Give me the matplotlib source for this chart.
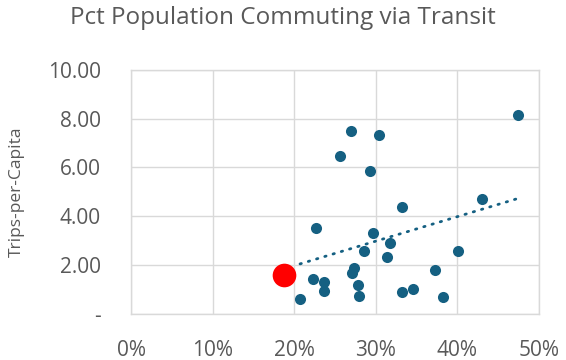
"""Scatter of transit trips per capita against share of population commuting by transit."""

import numpy as np
import matplotlib

matplotlib.use("Agg")

import matplotlib.pyplot as plt
from matplotlib.ticker import FuncFormatter

# Peer systems: share commuting via transit (%) and trips per capita
PCT_TRANSIT = [
    20.7, 22.3, 22.6, 23.7, 23.7, 25.6, 26.9, 27.1, 27.3, 27.8,
    27.95, 28.6, 29.3, 29.6, 30.4, 31.4, 31.8, 33.2, 33.2, 34.5,
    37.2, 38.3, 40.1, 43.0, 47.5,
]
TRIPS_PER_CAPITA = [
    0.63, 1.43, 3.54, 1.32, 0.95, 6.49, 7.50, 1.69, 1.87, 1.19,
    0.75, 2.58, 5.87, 3.32, 7.31, 2.32, 2.92, 4.40, 0.89, 1.02,
    1.78, 0.71, 2.58, 4.69, 8.17,
]

# Highlighted system
HIGHLIGHT_PCT = [18.7]
HIGHLIGHT_TRIPS = [1.60]

X_TICKS = [0, 10, 20, 30, 40, 50]
Y_TICKS = [0, 2, 4, 6, 8, 10]

BLUE = "#156082"
GREY_TEXT = "#595959"
GRID = "#D9D9D9"

plt.rcParams["font.family"] = ["Open Sans", "DejaVu Sans"]

fig = plt.figure(figsize=(5.66, 3.60), dpi=100)
ax = fig.add_axes([0.232, 0.128, 0.720, 0.678])

x = np.array(PCT_TRANSIT)
y = np.array(TRIPS_PER_CAPITA)
ax.scatter(x, y, s=64, color=BLUE, linewidths=0, zorder=3)
ax.scatter(HIGHLIGHT_PCT, HIGHLIGHT_TRIPS, s=290, color="#FF0000", linewidths=0, zorder=4)

# Linear trendline over the peer systems
slope, intercept = np.polyfit(x, y, 1)
xs = np.array([x.min(), x.max()])
ax.plot(xs, slope * xs + intercept, color=BLUE, linewidth=2.0,
        linestyle=(0, (0.5, 2.6)), dash_capstyle="round", zorder=2)

ax.set_xlim(0, 50)
ax.set_ylim(0, 10)
ax.set_xticks(X_TICKS)
ax.set_yticks(Y_TICKS)
ax.xaxis.set_major_formatter(FuncFormatter(lambda v, _: f"{v:.0f}%"))
ax.yaxis.set_major_formatter(FuncFormatter(lambda v, _: "-" if v == 0 else f"{v:.2f}"))
ax.tick_params(axis="both", length=0, labelsize=15, labelcolor=GREY_TEXT)
ax.tick_params(axis="y", pad=22)
ax.tick_params(axis="x", pad=19)

ax.grid(True, color=GRID, linewidth=1.0, zorder=0)
ax.set_axisbelow(True)
for spine in ax.spines.values():
    spine.set_color(GRID)
    spine.set_linewidth(1.0)

ax.set_ylabel("Trips-per-Capita", fontsize=12.5, color=GREY_TEXT)
ax.yaxis.set_label_coords(-0.262, 0.5)
fig.text(0.5, 0.95, "Pct Population Commuting via Transit", ha="center", va="center",
         fontsize=17.5, color=GREY_TEXT)

fig.savefig("out.png", dpi=100)
